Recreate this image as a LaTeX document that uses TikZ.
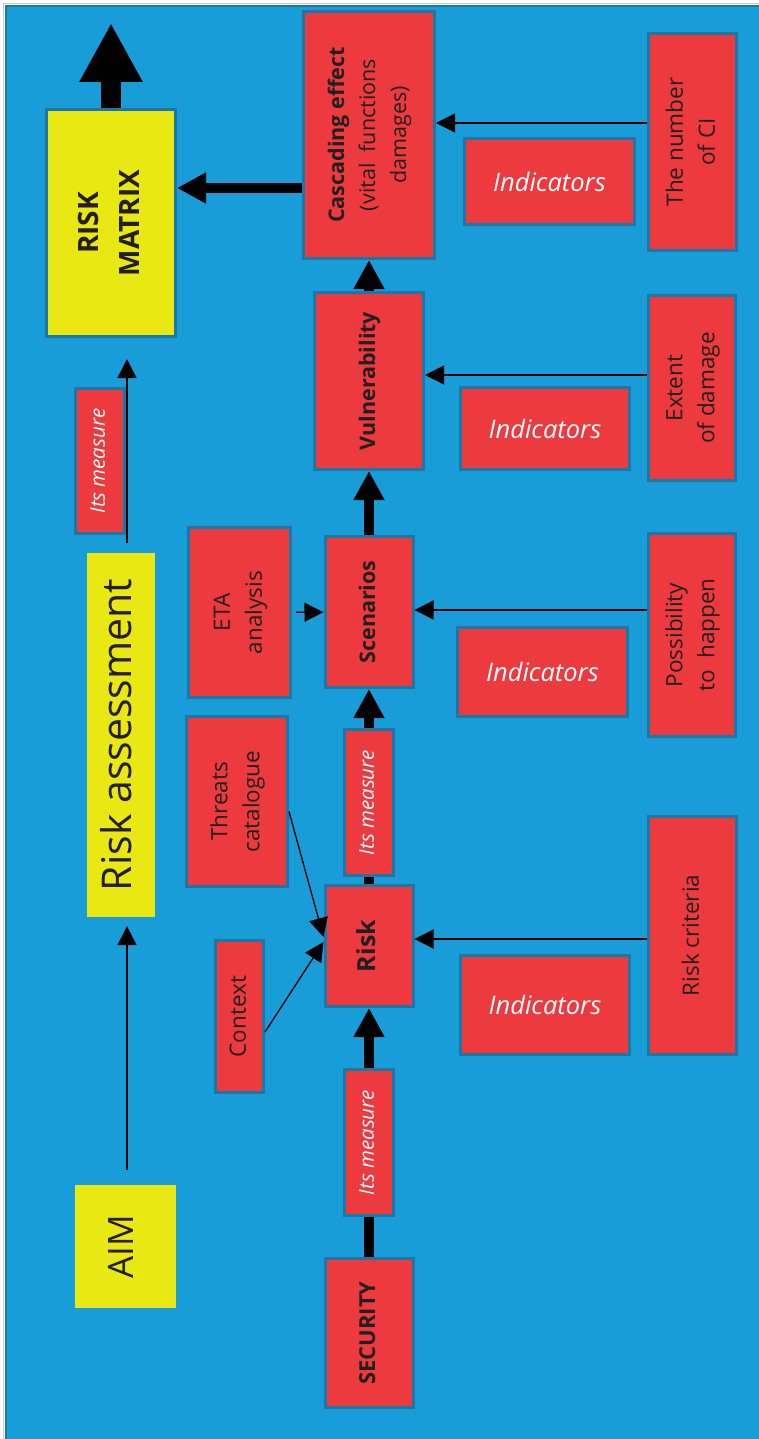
\documentclass[tikz,border=0pt]{standalone}
\usepackage{fontspec}
\setmainfont{Open Sans}
\usepackage{graphicx}
\usetikzlibrary{arrows.meta}

\definecolor{bgblue}{HTML}{189DD9}
\definecolor{edgeblue}{HTML}{1B78A6}
\definecolor{boxred}{HTML}{EC3A3F}
\definecolor{boxyellow}{HTML}{EAE813}
\definecolor{inkdark}{HTML}{231F20}

% text turned to read bottom-up: size, skip, lines
\newcommand{\uptext}[3]{\rotatebox{90}{\fontsize{#1}{#2}\selectfont\begin{tabular}{@{}c@{}}#3\end{tabular}}}
\newcommand{\indtext}{\fontsize{25.5}{30}\selectfont\itshape Indicators}

\begin{document}
\begin{tikzpicture}[x={(1pt,0pt)}, y={(0pt,-1pt)},
    redbox/.style={rectangle, draw=edgeblue, line width=3pt, fill=boxred, inner sep=0pt, text=inkdark},
    goalbox/.style={rectangle, fill=boxyellow, inner sep=0pt, text=inkdark},
    thin arrow/.style={line width=1.3pt, -{Triangle[length=19pt,width=19pt]}},
    thick arrow/.style={line width=10pt, -{Triangle[length=29pt,width=29pt]}},
    thick line/.style={line width=10pt}]
    \useasboundingbox (0,0) rectangle (759,1439);
    \fill[white] (0,0) rectangle (759,1439);
    \draw[black!20, line width=1pt] (3,1439) -- (3,3.5) -- (759,3.5);
    \filldraw[fill=bgblue, draw=edgeblue, line width=2pt] (5.5,6) rectangle (765,1445);

    % left column
    \node[goalbox, draw=edgeblue, line width=3pt, minimum width=129pt, minimum height=227pt] (riskmatrix) at (111,223) {\uptext{28}{41}{\bfseries RISK\\\bfseries MATRIX}};
    \node[redbox, text=white, minimum width=49pt, minimum height=145pt] (measA) at (100,461) {\uptext{20.5}{24}{\itshape Its measure}};
    \node[goalbox, minimum width=68pt, minimum height=364pt] (assess) at (121,735) {\uptext{41}{50}{Risk assessment}};
    \node[goalbox, minimum width=101pt, minimum height=123pt] (aim) at (125.5,1246.5) {\uptext{35}{42}{AIM}};

    % inputs
    \node[redbox, minimum width=102pt, minimum height=170pt] (eta) at (239.5,612.5) {\uptext{22.5}{32}{ETA\\analysis}};
    \node[redbox, minimum width=101pt, minimum height=170pt] (threats) at (237,801.5) {\uptext{22.5}{32}{Threats\\catalogue}};
    \node[redbox, minimum width=48pt, minimum height=152pt] (context) at (239.5,1016.5) {\uptext{22.5}{32}{Context}};

    % main column
    \node[redbox, minimum width=131pt, minimum height=247pt] (cascade) at (369,135) {\uptext{21.5}{31}{\bfseries Cascading effect\\(vital\ \ functions\\damages)}};
    \node[redbox, minimum width=109pt, minimum height=177pt] (vuln) at (369,381) {\uptext{21.5}{30}{\bfseries Vulnerability}};
    \node[redbox, minimum width=88pt, minimum height=151pt] (scen) at (369,612) {\uptext{21.5}{30}{\bfseries Scenarios}};
    \node[redbox, text=white, minimum width=49pt, minimum height=146pt] (measC) at (369,802.5) {\uptext{20.5}{24}{\itshape Its measure}};
    \node[redbox, minimum width=88pt, minimum height=121pt] (risk) at (369,946) {\uptext{25}{30}{\bfseries Risk}};
    \node[redbox, text=white, minimum width=49pt, minimum height=146pt] (measB) at (369,1142.5) {\uptext{20.5}{24}{\itshape Its measure}};
    \node[redbox, minimum width=88pt, minimum height=149pt] (security) at (369,1333) {\uptext{22}{30}{\bfseries SECURITY}};

    % indicators
    \node[redbox, text=white, minimum width=170pt, minimum height=86pt] (ind1) at (549.5,181.5) {\indtext};
    \node[redbox, text=white, minimum width=169pt, minimum height=82pt] (ind2) at (545,428.5) {\indtext};
    \node[redbox, text=white, minimum width=170pt, minimum height=89pt] (ind3) at (542.5,672) {\indtext};
    \node[redbox, text=white, minimum width=169pt, minimum height=99pt] (ind4) at (545,1005) {\indtext};

    % right column
    \node[redbox, minimum width=88pt, minimum height=217pt] (numci) at (692.5,142) {\uptext{22.5}{32}{The number\\of CI}};
    \node[redbox, minimum width=87pt, minimum height=185pt] (extent) at (692,388) {\uptext{22.5}{32}{Extent\\of damage}};
    \node[redbox, minimum width=87pt, minimum height=203pt] (poss) at (692,635) {\uptext{22.5}{32}{Possibility\\to\ \ happen}};
    \node[redbox, minimum width=88pt, minimum height=238pt] (crit) at (692.5,935.5) {\uptext{22.5}{32}{Risk criteria}};

    \coordinate (exit) at (111,23);

    % main flow
    \draw[thick line] (security) -- (measB);
    \draw[thick arrow] (measB) -- (risk);
    \draw[thick line] (risk) -- (measC);
    \draw[thick arrow] (measC) -- (scen);
    \draw[thick arrow] (scen) -- (vuln);
    \draw[thick arrow] (vuln) -- (cascade);
    \draw[thick arrow] ([yshift=-53pt]cascade.west) -- ([yshift=-53pt]cascade.west -| riskmatrix.east);
    \draw[line width=20pt, -{Triangle[length=59pt,width=59pt]}] (riskmatrix) -- (exit);

    % thin links
    \draw[thin arrow] ([yshift=19pt]numci.west) -- ([yshift=19pt]numci.west -| cascade.east);
    \draw[thin arrow] ([yshift=13pt]extent.west) -- ([yshift=13pt]extent.west -| vuln.east);
    \draw[thin arrow] ([yshift=25pt]poss.west) -- ([yshift=25pt]poss.west -| scen.east);
    \draw[thin arrow] ([yshift=-3.5pt]crit.west) -- ([yshift=-3.5pt]crit.west -| risk.east);
    \draw[thin arrow, shorten <=4pt] (eta) -- (scen);
    \draw[thin arrow] ([yshift=-10pt]threats.east) -- ([yshift=9pt]risk.west);
    \draw[thin arrow] ([yshift=-15.5pt]context.east) -- ([yshift=4pt]risk.west);
    \draw[thin arrow, shorten <=15pt, shorten >=9pt] ([xshift=1.5pt]aim.north) -- ([xshift=6pt]assess.south);
    \draw[thin arrow, shorten <=10pt, shorten >=21pt] ([xshift=6pt]assess.north) -- ([xshift=16pt]riskmatrix.south);
\end{tikzpicture}
\end{document}
